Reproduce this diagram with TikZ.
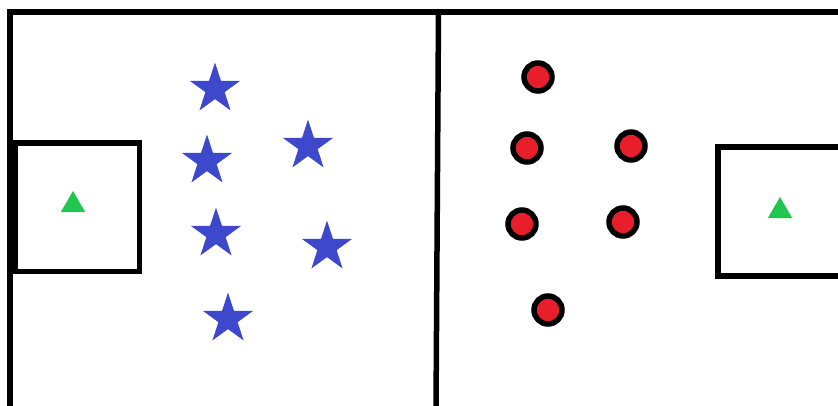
\documentclass[tikz,border=0pt]{standalone}
\usepackage{xcolor}
\usepackage{tikz}
\usetikzlibrary{shapes.geometric}
\definecolor{myblue}{RGB}{62,72,204}
\definecolor{myred}{RGB}{232,30,42}
\definecolor{mygreen}{RGB}{32,198,78}
\definecolor{mydark}{RGB}{0,0,0}
\tikzset{
  fieldline/.style={line width=6pt, color=mydark, line join=miter},
  goalbox/.style={line width=5.5pt, color=mydark},
  bluestar/.style={star, star points=5, star point ratio=2.618,
    fill=myblue, draw=none, minimum size=53pt, inner sep=0pt},
  reddot/.style={circle, fill=myred, draw=mydark, line width=5.5pt,
    minimum size=28pt, inner sep=0pt},
  keeper/.style={regular polygon, regular polygon sides=3, fill=mygreen,
    draw=none, minimum size=28pt, inner sep=0pt}
}
\begin{document}
\begin{tikzpicture}[x=1pt, y=-1pt]
  \path[use as bounding box, fill=white] (0,0) rectangle (838,405);

  % Pitch outline and halfway line
  \draw[fieldline] (10,410) -- (10,11.5) -- (850,11.5);
  \coordinate (midtop) at (438.5,11.5);
  \coordinate (midbot) at (436,410);
  \draw[line width=5.5pt, color=mydark] (midtop) -- (midbot);

  % Goal boxes
  \draw[goalbox] (15,143) rectangle (139.5,271.5);
  \draw[goalbox] (850,147) -- (718,147) -- (718,276) -- (850,276);

  % Goalkeepers
  \node[keeper] (keepleft) at (73,205) {};
  \node[keeper] (keepright) at (780,211) {};

  % Blue team
  \foreach \x/\y [count=\i] in {215/89, 207/161, 308/146, 216/234, 327/247, 228/319}
    \node[bluestar] (star\i) at (\x,\y) {};

  % Red team
  \foreach \x/\y [count=\i] in {538/77, 527/148, 631/146, 522/224, 623/222, 548/310}
    \node[reddot] (dot\i) at (\x,\y) {};
\end{tikzpicture}
\end{document}
